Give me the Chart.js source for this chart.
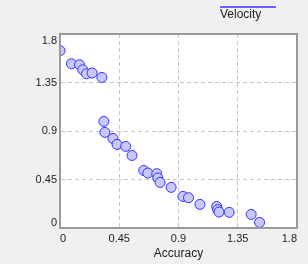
<!DOCTYPE html>
<html lang="en">
<head>
  <meta charset="UTF-8">
  <title>Velocity vs Accuracy</title>
  <script src="https://cdn.jsdelivr.net/npm/chart.js"></script>
  <style>
    html, body { margin: 0; padding: 0; background: #f0f0f0; }
    #wrap { position: relative; width: 308px; height: 264px; }
  </style>
</head>
<body>
  <div id="wrap"><canvas id="scatter" width="308" height="264"></canvas></div>

  <script>
    const seriesName = 'Velocity';
    const xTitle = 'Accuracy';
    const accuracy = [0, 0.087, 0.148, 0.173, 0.201, 0.244, 0.318, 0.333, 0.341, 0.402,
                      0.433, 0.499, 0.547, 0.636, 0.667, 0.735, 0.743, 0.760, 0.844, 0.934,
                      0.976, 1.063, 1.190, 1.198, 1.208, 1.285, 1.452, 1.516];
    const velocity = [1.645, 1.524, 1.515, 1.468, 1.431, 1.438, 1.397, 0.989, 0.887, 0.831,
                      0.776, 0.757, 0.673, 0.534, 0.510, 0.504, 0.464, 0.423, 0.377, 0.293,
                      0.281, 0.219, 0.200, 0.170, 0.148, 0.145, 0.126, 0.052];
    const xTicks = [0, 0.45, 0.9, 1.35, 1.8];
    const yTicks = [0, 0.45, 0.9, 1.35, 1.8];

    const fontStr = "11px 'Liberation Sans', Arial, sans-serif";

    // white plot area, grey frame, tick labels kept inside the frame, legend on top
    const frame = {
      id: 'frame',
      beforeDraw(chart) {
        const { ctx, chartArea: a } = chart;
        ctx.save();
        ctx.fillStyle = '#ffffff';
        ctx.fillRect(a.left, a.top, a.right - a.left, a.bottom - a.top);
        ctx.restore();
      },
      afterDraw(chart) {
        const { ctx, chartArea: a, scales } = chart;
        ctx.save();
        ctx.strokeStyle = '#9a9a9a';
        ctx.lineWidth = 2;
        ctx.strokeRect(a.left, a.top, a.right - a.left, a.bottom - a.top);

        ctx.fillStyle = '#222';
        ctx.font = fontStr;
        ctx.textBaseline = 'middle';
        ctx.textAlign = 'right';
        yTicks.forEach(v => {
          const y = Math.min(Math.max(scales.y.getPixelForValue(v), a.top + 7), a.bottom - 5);
          ctx.fillText(String(v), a.left - 3, y);
        });
        xTicks.forEach(v => {
          const x = scales.x.getPixelForValue(v);
          ctx.textAlign = x <= a.left + 1 ? 'left' : x >= a.right - 1 ? 'right' : 'center';
          ctx.fillText(String(v), x, a.bottom + 11);
        });

        ctx.strokeStyle = '#3333ff';
        ctx.lineWidth = 1.5;
        ctx.beginPath();
        ctx.moveTo(220, 7);
        ctx.lineTo(276, 7);
        ctx.stroke();
        ctx.font = "12px 'Liberation Sans', Arial, sans-serif";
        ctx.textAlign = 'left';
        ctx.textBaseline = 'alphabetic';
        ctx.fillText(chart.data.datasets[0].label, 220, 18);
        ctx.restore();
      }
    };

    const gridColor = c => (c.tick.value === 0 || c.tick.value === 1.8) ? 'rgba(0,0,0,0)' : '#c4c4c4';

    new Chart(document.getElementById('scatter'), {
      type: 'scatter',
      data: {
        datasets: [{
          label: seriesName,
          data: accuracy.map((x, i) => ({ x, y: velocity[i] })),
          pointRadius: 5,
          pointHoverRadius: 5,
          pointBackgroundColor: '#c8c8ff',
          pointBorderColor: '#3333ff',
          pointBorderWidth: 1
        }]
      },
      options: {
        responsive: false,
        animation: false,
        layout: { padding: { top: 34, right: 11, left: 0, bottom: 0 } },
        plugins: { legend: { display: false }, tooltip: { enabled: false } },
        scales: {
          x: {
            type: 'linear', min: 0, max: 1.8,
            afterBuildTicks: s => { s.ticks = xTicks.map(v => ({ value: v })); },
            afterFit: s => { s.height = 36; },
            ticks: { display: false },
            grid: { color: gridColor, drawTicks: false, lineWidth: 1 },
            border: { display: true, color: 'rgba(0,0,0,0)', dash: [4, 3] },
            title: { display: true, text: xTitle, color: '#222', font: { family: "'Liberation Sans', Arial, sans-serif", size: 12 }, padding: { top: 0, bottom: 3 } }
          },
          y: {
            type: 'linear', min: 0, max: 1.8,
            afterBuildTicks: s => { s.ticks = yTicks.map(v => ({ value: v })); },
            afterFit: s => { s.width = 60; },
            ticks: { display: false },
            grid: { color: gridColor, drawTicks: false, lineWidth: 1 },
            border: { display: true, color: 'rgba(0,0,0,0)', dash: [4, 3] }
          }
        }
      },
      plugins: [frame]
    });
  </script>
</body>
</html>
